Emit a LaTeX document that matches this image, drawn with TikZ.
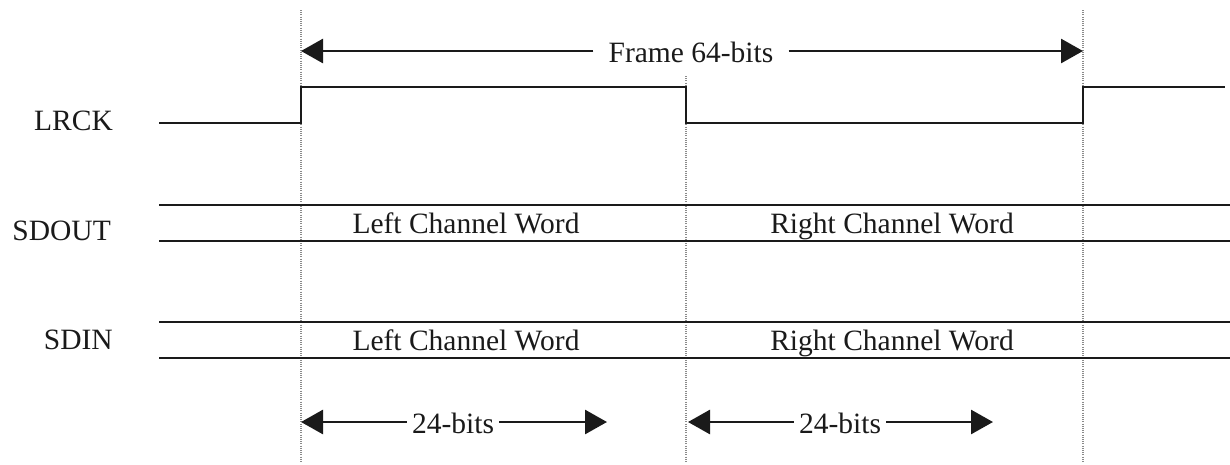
\documentclass[tikz,border=0pt]{standalone}
\usepackage{fontspec}
\setmainfont{Liberation Serif}
\usetikzlibrary{arrows.meta}
\definecolor{ink}{HTML}{1A1A1A}
\definecolor{guide}{HTML}{8A8A8A}
\begin{document}
\begin{tikzpicture}[x=1pt,y=-1pt,
  lbl/.style={inner sep=0pt,anchor=base,font=\fontsize{29.5}{35}\selectfont,text=ink},
  gaplbl/.style={lbl,inner xsep=#1},
  signal/.style={draw=ink,line width=2.8pt},
  guideline/.style={draw=guide,line width=1.3pt,dash pattern=on 1pt off 1.2pt},
  span/.style={draw=ink,line width=2.8pt,-{Triangle[length=22pt,width=24pt]}}]
\useasboundingbox (0,0) rectangle (1230,464);

% timing guides at the frame and channel boundaries
\coordinate (g1t) at (301,10);  \coordinate (g1b) at (301,462);
\coordinate (g2t) at (686,76);  \coordinate (g2b) at (686,462);
\coordinate (g3t) at (1083,10); \coordinate (g3b) at (1083,462);
\draw[guideline] (g1t) -- (g1b);
\draw[guideline] (g2t) -- (g2b);
\draw[guideline] (g3t) -- (g3b);

% signal names
\node[lbl,anchor=base east] (lrck)  at (113,130) {LRCK};
\node[lbl,anchor=base east] (sdout) at (111,240) {SDOUT};
\node[lbl,anchor=base east] (sdin)  at (113,349) {SDIN};

% LRCK waveform
\coordinate (l0) at (159,123);
\coordinate (l1) at (301,123);
\coordinate (l2) at (301,87);
\coordinate (l3) at (686,87);
\coordinate (l4) at (686,123);
\coordinate (l5) at (1083,123);
\coordinate (l6) at (1083,87);
\coordinate (l7) at (1225,87);
\draw[signal] (l0) -- (l1) -- (l2) -- (l3) -- (l4) -- (l5) -- (l6) -- (l7);

% SDOUT data bus
\coordinate (oa0) at (159,205); \coordinate (oa1) at (1230,205);
\coordinate (ob0) at (159,241); \coordinate (ob1) at (1230,241);
\draw[signal] (oa0) -- (oa1);
\draw[signal] (ob0) -- (ob1);
\node[lbl] (outL) at (466,233) {Left Channel Word};
\node[lbl] (outR) at (892,233) {Right Channel Word};

% SDIN data bus
\coordinate (ia0) at (159,322); \coordinate (ia1) at (1230,322);
\coordinate (ib0) at (159,358); \coordinate (ib1) at (1230,358);
\draw[signal] (ia0) -- (ia1);
\draw[signal] (ib0) -- (ib1);
\node[lbl] (inL) at (466,350) {Left Channel Word};
\node[lbl] (inR) at (892,350) {Right Channel Word};

% frame length
\node[gaplbl=15pt] (frame) at (691,62) {Frame 64-bits};
\coordinate (fL) at (301,51);
\coordinate (fR) at (1083,51);
\draw[span] (frame.west |- fL) -- (fL);
\draw[span] (frame.east |- fR) -- (fR);

% word lengths
\node[gaplbl=5pt] (wl) at (453,433) {24-bits};
\coordinate (wlL) at (301,422);
\coordinate (wlR) at (607,422);
\draw[span] (wl.west |- wlL) -- (wlL);
\draw[span] (wl.east |- wlR) -- (wlR);

\node[gaplbl=5pt] (wr) at (840,433) {24-bits};
\coordinate (wrL) at (688,422);
\coordinate (wrR) at (993,422);
\draw[span] (wr.west |- wrL) -- (wrL);
\draw[span] (wr.east |- wrR) -- (wrR);
\end{tikzpicture}
\end{document}
